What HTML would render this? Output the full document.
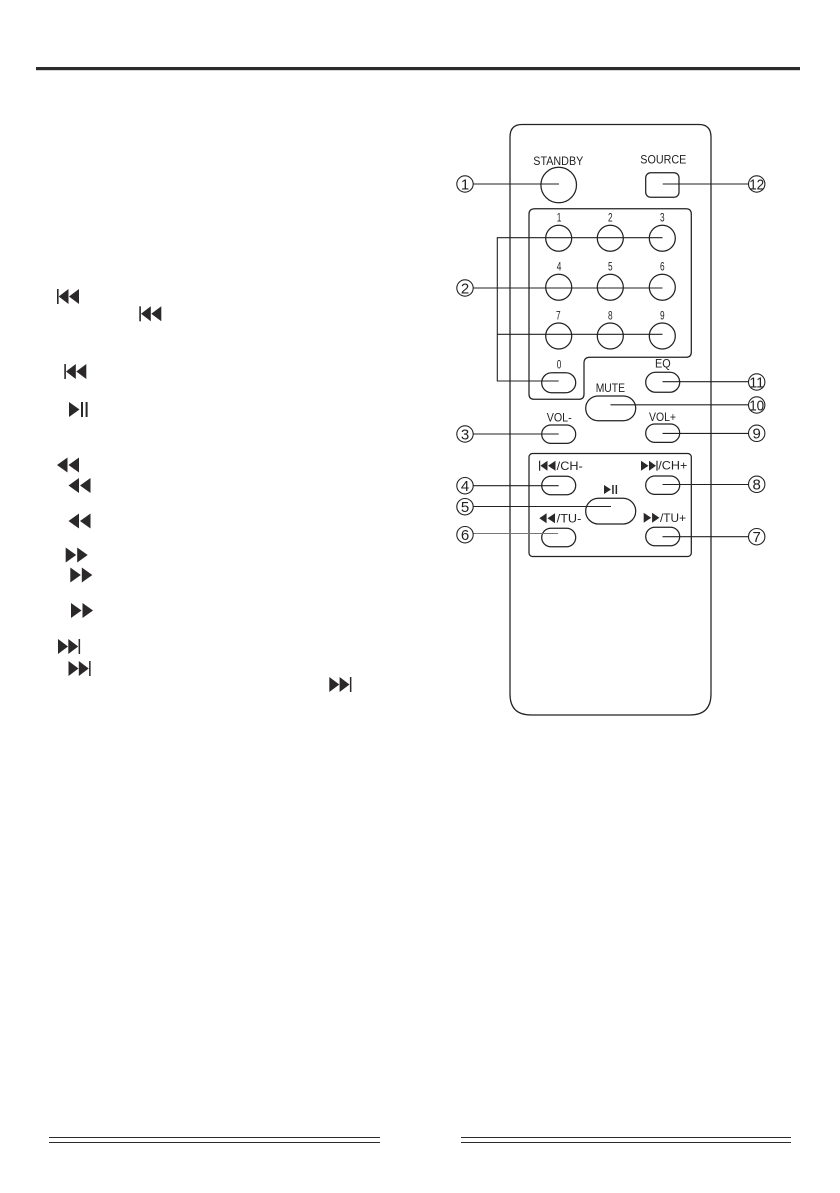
<!DOCTYPE html>
<html><head><meta charset="utf-8"><style>
html,body{margin:0;padding:0;background:#fff}
svg{display:block}
text{font-family:"Liberation Sans",Arial,sans-serif;fill:#222}
.b{fill:#fff;stroke:#222;stroke-width:1.25}
.l{fill:none;stroke:#222;stroke-width:1.1}
.i{fill:#2a2828}
.n{font-size:15px;text-anchor:middle}
.c{fill:#fff;stroke:#222;stroke-width:1.1}
</style></head><body>
<svg width="840" height="1193" viewBox="0 0 840 1193" xmlns="http://www.w3.org/2000/svg">
<rect x="36" y="67" width="764" height="3.2" fill="#2b2b2b"/>
<rect x="49" y="1137" width="331" height="1" fill="#2b2b2b"/>
<rect x="49" y="1142" width="331" height="1" fill="#2b2b2b"/>
<rect x="461" y="1137" width="330" height="1" fill="#2b2b2b"/>
<rect x="461" y="1142" width="330" height="1" fill="#2b2b2b"/>

<!-- left column icons -->
<g class="i">
<g transform="translate(57,289)"><rect width="1.6" height="15"/><polygon points="1.7,7.5 11.5,0 11.5,15"/><polygon points="12,7.5 22,0 22,15"/></g>
<g transform="translate(139.3,306.3)"><rect width="1.6" height="15"/><polygon points="1.7,7.5 11.5,0 11.5,15"/><polygon points="12,7.5 22,0 22,15"/></g>
<g transform="translate(64.3,364)"><rect width="1.6" height="15"/><polygon points="1.7,7.5 11.5,0 11.5,15"/><polygon points="12,7.5 22,0 22,15"/></g>
<g transform="translate(69,402)"><polygon points="0,0 10.5,7.5 0,15"/><rect x="12" width="2" height="15"/><rect x="16.6" width="2" height="15"/></g>
<g transform="translate(57,457.5)"><polygon points="0,7.5 10.5,0 10.5,15"/><polygon points="11.5,7.5 22,0 22,15"/></g>
<g transform="translate(68.5,478)"><polygon points="0,7.5 10.5,0 10.5,15"/><polygon points="11.5,7.5 22,0 22,15"/></g>
<g transform="translate(68.5,513.5)"><polygon points="0,7.5 10.5,0 10.5,15"/><polygon points="11.5,7.5 22,0 22,15"/></g>
<g transform="translate(65.7,547.5)"><polygon points="0,0 10.5,7.5 0,15"/><polygon points="11.5,0 22,7.5 11.5,15"/></g>
<g transform="translate(70.3,567.5)"><polygon points="0,0 10.5,7.5 0,15"/><polygon points="11.5,0 22,7.5 11.5,15"/></g>
<g transform="translate(71,603)"><polygon points="0,0 10.5,7.5 0,15"/><polygon points="11.5,0 22,7.5 11.5,15"/></g>
<g transform="translate(58,639)"><polygon points="0,0 10,7.5 0,15"/><polygon points="10.3,0 20.2,7.5 10.3,15"/><rect x="20.6" width="1.5" height="15"/></g>
<g transform="translate(68.5,661)"><polygon points="0,0 10,7.5 0,15"/><polygon points="10.3,0 20.2,7.5 10.3,15"/><rect x="20.6" width="1.5" height="15"/></g>
<g transform="translate(329.3,677)"><polygon points="0,0 10,7.5 0,15"/><polygon points="10.3,0 20.2,7.5 10.3,15"/><rect x="20.6" width="1.5" height="15"/></g>
</g>

<!-- remote body -->
<path class="b" d="M522,124.5 H699 Q711,124.5 711,137 V694 Q711,715 690,715 H531 Q510,715 510,694 V137 Q510,124.5 522,124.5 Z"/>
<!-- keypad panel -->
<path class="b" d="M535,208.7 H686 Q691.3,208.7 691.3,214 V352 Q691.3,357.3 686,357.3 H590 Q584,357.3 584,363 V394 Q584,399.3 579,399.3 H534 Q529,399.3 529,394 V214 Q529,208.7 535,208.7 Z"/>
<!-- transport panel -->
<rect class="b" x="529" y="453.5" width="162.3" height="103" rx="3.5"/>

<!-- buttons -->
<circle class="b" cx="558.7" cy="185" r="17.8"/>
<rect class="b" x="645.7" y="172.7" width="33.3" height="24.6" rx="5"/>
<circle class="b" cx="558.7" cy="238.3" r="13"/><circle class="b" cx="610.3" cy="238.3" r="13"/><circle class="b" cx="662.3" cy="238.3" r="13"/>
<circle class="b" cx="558.7" cy="287.3" r="13"/><circle class="b" cx="610.3" cy="287.3" r="13"/><circle class="b" cx="662.3" cy="287.3" r="13"/>
<circle class="b" cx="558.7" cy="336" r="13"/><circle class="b" cx="610.3" cy="336" r="13"/><circle class="b" cx="662.3" cy="336" r="13"/>
<rect class="b" x="541.7" y="372.7" width="34" height="20" rx="10"/>
<rect class="b" x="645.7" y="372.3" width="34" height="20" rx="10"/>
<rect class="b" x="585.7" y="396" width="50" height="24.7" rx="12.3"/>
<rect class="b" x="541.7" y="425" width="34" height="18.4" rx="9.2"/>
<rect class="b" x="645.7" y="424" width="34" height="18.4" rx="9.2"/>
<rect class="b" x="541.7" y="476.3" width="34" height="18.4" rx="9.2"/>
<rect class="b" x="645.7" y="476" width="34" height="18.4" rx="9.2"/>
<rect class="b" x="585.7" y="498.3" width="50" height="25.7" rx="12.8"/>
<rect class="b" x="541.7" y="528.3" width="34" height="18.4" rx="9.2"/>
<rect class="b" x="645.7" y="527.3" width="34" height="18.4" rx="9.2"/>

<!-- connector lines -->
<path class="l" d="M473,184 H559"/>
<path class="l" d="M662.7,184 H748"/>
<path class="l" d="M662.5,237.7 H497.3 V381 H558.7"/>
<path class="l" d="M497.3,334.3 H662.5"/>
<path class="l" d="M473,288 H662.5"/>
<path class="l" d="M662.5,381.7 H748"/>
<path class="l" d="M610.5,404.8 H748"/>
<path class="l" d="M473,434 H558.7"/>
<path class="l" d="M662.5,433.4 H748"/>
<path class="l" d="M473,485.7 H558.7"/>
<path class="l" d="M662.5,484.5 H748"/>
<path class="l" d="M473,506.5 H611"/>
<path d="M473,533.5 H558" fill="none" stroke="#777" stroke-width="1"/>
<path class="l" d="M662.5,536.7 H748"/>

<!-- callouts left -->
<circle class="c" cx="465" cy="184" r="8.2"/><text class="n" x="465" y="189.3">1</text>
<circle class="c" cx="465" cy="288" r="8.2"/><text class="n" x="465" y="293.3">2</text>
<circle class="c" cx="465" cy="434" r="8.2"/><text class="n" x="465" y="439.3">3</text>
<circle class="c" cx="465" cy="485.7" r="8.2"/><text class="n" x="465" y="491">4</text>
<circle class="c" cx="465" cy="506.7" r="8.2"/><text class="n" x="465" y="512">5</text>
<circle class="c" cx="465" cy="534.7" r="8.2"/><text class="n" x="465" y="540">6</text>
<!-- callouts right -->
<circle class="c" cx="756.7" cy="184" r="8.2"/><text x="749.2" y="189.3" font-size="15" textLength="15" lengthAdjust="spacingAndGlyphs">12</text>
<circle class="c" cx="756.7" cy="382" r="8.2"/><text x="749.2" y="387.3" font-size="15" textLength="15" lengthAdjust="spacingAndGlyphs">11</text>
<circle class="c" cx="756.7" cy="405" r="8.2"/><text x="749.2" y="410.3" font-size="15" textLength="15" lengthAdjust="spacingAndGlyphs">10</text>
<circle class="c" cx="756.7" cy="433.3" r="8.2"/><text class="n" x="756.7" y="438.6">9</text>
<circle class="c" cx="756.7" cy="484.3" r="8.2"/><text class="n" x="756.7" y="489.6">8</text>
<circle class="c" cx="756.7" cy="536.7" r="8.2"/><text class="n" x="756.7" y="542">7</text>

<!-- button labels -->
<text x="533.3" y="165" font-size="11.5" textLength="50" lengthAdjust="spacingAndGlyphs">STANDBY</text>
<text x="640.3" y="163.5" font-size="11.5" textLength="46" lengthAdjust="spacingAndGlyphs">SOURCE</text>
<g font-size="11.5">
<text x="556.7" y="221.7" textLength="4.6" lengthAdjust="spacingAndGlyphs">1</text>
<text x="608" y="221.7" textLength="4.6" lengthAdjust="spacingAndGlyphs">2</text>
<text x="660" y="221.7" textLength="4.6" lengthAdjust="spacingAndGlyphs">3</text>
<text x="556.7" y="270.7" textLength="4.6" lengthAdjust="spacingAndGlyphs">4</text>
<text x="608" y="270.7" textLength="4.6" lengthAdjust="spacingAndGlyphs">5</text>
<text x="660" y="270.7" textLength="4.6" lengthAdjust="spacingAndGlyphs">6</text>
<text x="556" y="319.3" textLength="4.6" lengthAdjust="spacingAndGlyphs">7</text>
<text x="608" y="319.3" textLength="4.6" lengthAdjust="spacingAndGlyphs">8</text>
<text x="660" y="319.3" textLength="4.6" lengthAdjust="spacingAndGlyphs">9</text>
<text x="556.7" y="368.3" textLength="4.6" lengthAdjust="spacingAndGlyphs">0</text>
</g>
<text x="655" y="367.3" font-size="11.5" textLength="15.7" lengthAdjust="spacingAndGlyphs">EQ</text>
<text x="595.7" y="392" font-size="12" textLength="29.3" lengthAdjust="spacingAndGlyphs">MUTE</text>
<text x="546.7" y="421.7" font-size="11.5" textLength="25" lengthAdjust="spacingAndGlyphs">VOL-</text>
<text x="649" y="421" font-size="11.5" textLength="27" lengthAdjust="spacingAndGlyphs">VOL+</text>
<text x="556.7" y="469.9" font-size="12" textLength="26" lengthAdjust="spacingAndGlyphs">/CH-</text>
<text x="658.3" y="469.7" font-size="12" textLength="29" lengthAdjust="spacingAndGlyphs">/CH+</text>
<text x="556.7" y="522.5" font-size="12" textLength="24.6" lengthAdjust="spacingAndGlyphs">/TU-</text>
<text x="660" y="521.9" font-size="12" textLength="26" lengthAdjust="spacingAndGlyphs">/TU+</text>

<!-- panel icons -->
<g class="i">
<g transform="translate(539,460.7)"><rect width="1.2" height="10"/><polygon points="1.4,5 8.5,0 8.5,10"/><polygon points="9,5 16.5,0 16.5,10"/></g>
<g transform="translate(641,460.7)"><polygon points="0,0 7.5,5 0,10"/><polygon points="8,0 15,5 8,10"/><rect x="15.4" width="1.2" height="10"/></g>
<g transform="translate(604,485)"><polygon points="0,0 7,4.5 0,9"/><rect x="8.2" width="1.5" height="9"/><rect x="11.6" width="1.5" height="9"/></g>
<g transform="translate(539.3,513.3)"><polygon points="0,5 7.3,0 7.3,10"/><polygon points="8.2,5 15.7,0 15.7,10"/></g>
<g transform="translate(643.7,512.7)"><polygon points="0,0 7.5,5 0,10"/><polygon points="8.4,0 15.7,5 8.4,10"/></g>
</g>
</svg>
</body></html>
